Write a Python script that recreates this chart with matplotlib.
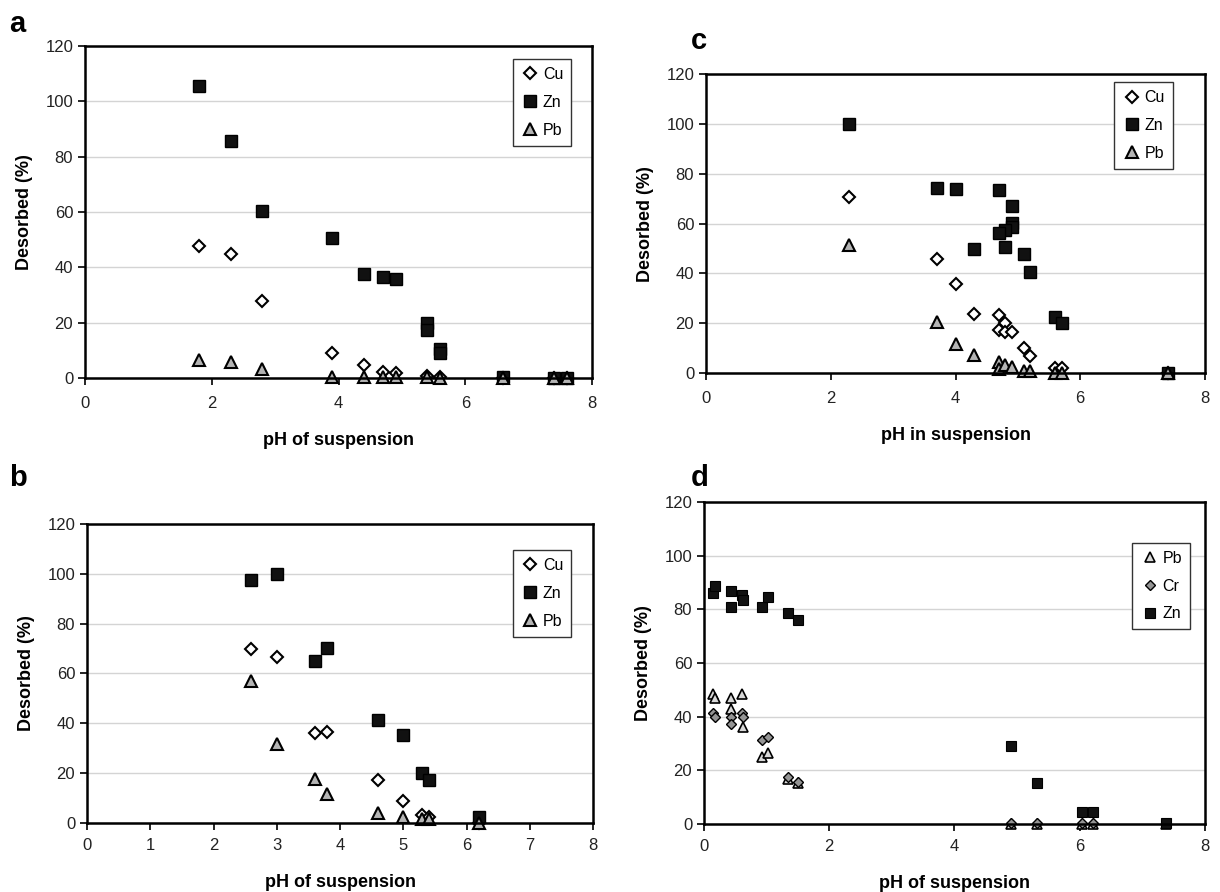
import matplotlib
matplotlib.use("Agg")
import matplotlib.pyplot as plt

plt.rcParams['font.family'] = ['Liberation Sans', 'DejaVu Sans']

# --- data ---
a_cu_ph = [1.8, 2.3, 2.8, 3.9, 4.4, 4.7, 4.9, 5.4, 5.6, 6.6, 7.4, 7.6]
a_cu = [47.6, 45, 27.7, 9, 4.8, 2, 1.8, 0.8, 0.4, 0, 0, 0]
a_zn_ph = [1.8, 2.3, 2.8, 3.9, 4.4, 4.7, 4.9, 5.4, 5.4, 5.6, 5.6, 6.6, 7.4, 7.6]
a_zn = [105.4, 85.5, 60.5, 50.6, 37.6, 36.4, 35.8, 20, 17.5, 10.5, 9.2, 0.3, 0, 0]
a_pb_ph = [1.8, 2.3, 2.8, 3.9, 4.4, 4.7, 4.9, 5.4, 5.6, 6.6, 7.4, 7.6]
a_pb = [6.6, 5.7, 3.4, 0.3, 0.3, 0.2, 0.2, 0.2, 0.1, 0, 0, 0]

b_ph = [2.6, 3.0, 3.6, 3.8, 4.6, 5.0, 5.3, 5.4, 6.2]
b_cu = [69.8, 66.5, 36.1, 36.5, 17.4, 8.8, 3.3, 2.4, 0]
b_zn = [97.4, 99.9, 65.2, 70.1, 41.3, 35.3, 20, 17.4, 2.3]
b_pb = [56.9, 31.8, 17.8, 11.8, 4, 2.4, 1.6, 1.6, 0]

c_cu_ph = [2.3, 3.7, 4.0, 4.3, 4.7, 4.8, 4.7, 4.8, 4.9, 5.1, 5.2, 5.6, 5.7, 7.4]
c_cu = [70.6, 45.8, 35.6, 23.9, 23.5, 19.9, 17.4, 16.5, 16.5, 10, 6.8, 2.1, 2.1, 0]
c_zn_ph = [2.3, 3.7, 4.0, 4.7, 4.9, 4.9, 4.9, 4.8, 4.7, 4.8, 4.3, 5.1, 5.2, 5.6, 5.7, 7.4]
c_zn = [100, 74.2, 74, 73.6, 67.2, 60.1, 58.8, 57.4, 56.1, 50.5, 49.7, 47.8, 40.4, 22.5, 19.9, 0]
c_pb_ph = [2.3, 3.7, 4.0, 4.3, 4.7, 4.7, 4.8, 4.9, 5.1, 5.2, 5.6, 5.7, 7.4]
c_pb = [51.4, 20.5, 11.5, 7.4, 4.4, 1.7, 3.1, 2.4, 0.7, 0.7, 0, 0, 0]

d_ph = [0.15, 0.18, 0.44, 0.44, 0.60, 0.63, 0.92, 1.02, 1.34, 1.50, 4.91, 5.31, 6.04, 6.21, 7.38]
d_pb = [48.6, 47.1, 46.8, 42.7, 48.6, 36.2, 25.1, 26.3, 16.7, 15.4, 0, 0, 0, 0, 0]
d_cr = [41.2, 40, 40, 37.1, 41.2, 40, 31.3, 32.3, 17.6, 15.8, 0.5, 0.5, 0.5, 0.5, 0.5]
d_zn = [86.2, 88.6, 86.8, 80.9, 85.2, 83.4, 80.9, 84.6, 78.7, 76.2, 29, 15.4, 4.3, 4.3, 0.2]

# marker styles
CU = dict(marker='D', ms=6.5, mfc='white', mec='black', mew=1.5, ls='none')
ZN = dict(marker='s', ms=9, mfc='#111111', mec='black', mew=1, ls='none')
PB = dict(marker='^', ms=9, mfc='#b4b4b4', mec='black', mew=1.5, ls='none')

fig = plt.figure(figsize=(12.2, 8.92), dpi=100)


def style_axes(ax, xlabel, xstep, tickpad, labelpad):
    ax.set_xlim(0, 8)
    ax.set_ylim(0, 120)
    ax.set_xticks(range(0, 9, xstep))
    ax.set_yticks(range(0, 121, 20))
    ax.yaxis.grid(True, color='#d4d4d4', lw=1)
    ax.set_axisbelow(True)
    for s in ax.spines.values():
        s.set_linewidth(1.8)
    ax.tick_params(direction='out', length=5, width=1.2, labelsize=12,
                   colors='black', labelcolor='#222222')
    ax.tick_params(axis='x', pad=tickpad)
    ax.set_xlabel(xlabel, fontsize=13, fontweight='bold', labelpad=labelpad)
    ax.set_ylabel('Desorbed (%)', fontsize=13, fontweight='bold', labelpad=9)


def add_legend(ax, anchor):
    leg = ax.legend(loc='upper right', bbox_to_anchor=anchor, fontsize=11.5,
                    fancybox=False, framealpha=1, edgecolor='#333333',
                    handletextpad=0.2, borderpad=0.5, labelspacing=0.8,
                    handlelength=1.2, borderaxespad=0)
    leg.get_frame().set_linewidth(1)


# panel a
ax_a = fig.add_axes([0.0697, 0.5762, 0.4156, 0.3722])
ax_a.plot(a_cu_ph, a_cu, label='Cu', clip_on=False, **CU)
ax_a.plot(a_zn_ph, a_zn, label='Zn', clip_on=False, **ZN)
ax_a.plot(a_pb_ph, a_pb, label='Pb', clip_on=False, **PB)
style_axes(ax_a, 'pH of suspension', 2, 8, 15)
add_legend(ax_a, (0.959, 0.961))

# panel c
ax_c = fig.add_axes([0.5787, 0.5818, 0.409, 0.335])
ax_c.plot(c_cu_ph, c_cu, label='Cu', clip_on=False, **CU)
ax_c.plot(c_zn_ph, c_zn, label='Zn', clip_on=False, **ZN)
ax_c.plot(c_pb_ph, c_pb, label='Pb', clip_on=False, **PB)
style_axes(ax_c, 'pH in suspension', 2, 8, 15)
add_legend(ax_c, (0.936, 0.973))

# panel b
ax_b = fig.add_axes([0.0713, 0.0774, 0.4148, 0.3352])
ax_b.plot(b_ph, b_cu, label='Cu', clip_on=False, **CU)
ax_b.plot(b_ph, b_zn, label='Zn', clip_on=False, **ZN)
ax_b.plot(b_ph, b_pb, label='Pb', clip_on=False, **PB)
style_axes(ax_b, 'pH of suspension', 1, 6, 15)
add_legend(ax_b, (0.957, 0.913))

# panel d
ax_d = fig.add_axes([0.577, 0.0762, 0.4107, 0.361])
ax_d.plot(d_ph, d_pb, label='Pb', marker='^', ms=7.5, mfc='#d8d8d8', mec='black',
          mew=1.2, ls='none', clip_on=False)
ax_d.plot(d_ph, d_cr, label='Cr', marker='D', ms=5.5, mfc='#959595', mec='black',
          mew=1, ls='none', clip_on=False)
ax_d.plot(d_ph, d_zn, label='Zn', marker='s', ms=7, mfc='#111111', mec='black',
          mew=0.8, ls='none', clip_on=False)
style_axes(ax_d, 'pH of suspension', 2, 6, 15)
add_legend(ax_d, (0.970, 0.873))

# panel letters
for letter, x, y in [('a', 0.0074, 0.964), ('c', 0.566, 0.945),
                     ('b', 0.0074, 0.455), ('d', 0.566, 0.455)]:
    fig.text(x, y, letter, fontsize=21, fontweight='bold', va='baseline')

fig.savefig('out.png', dpi=100)
